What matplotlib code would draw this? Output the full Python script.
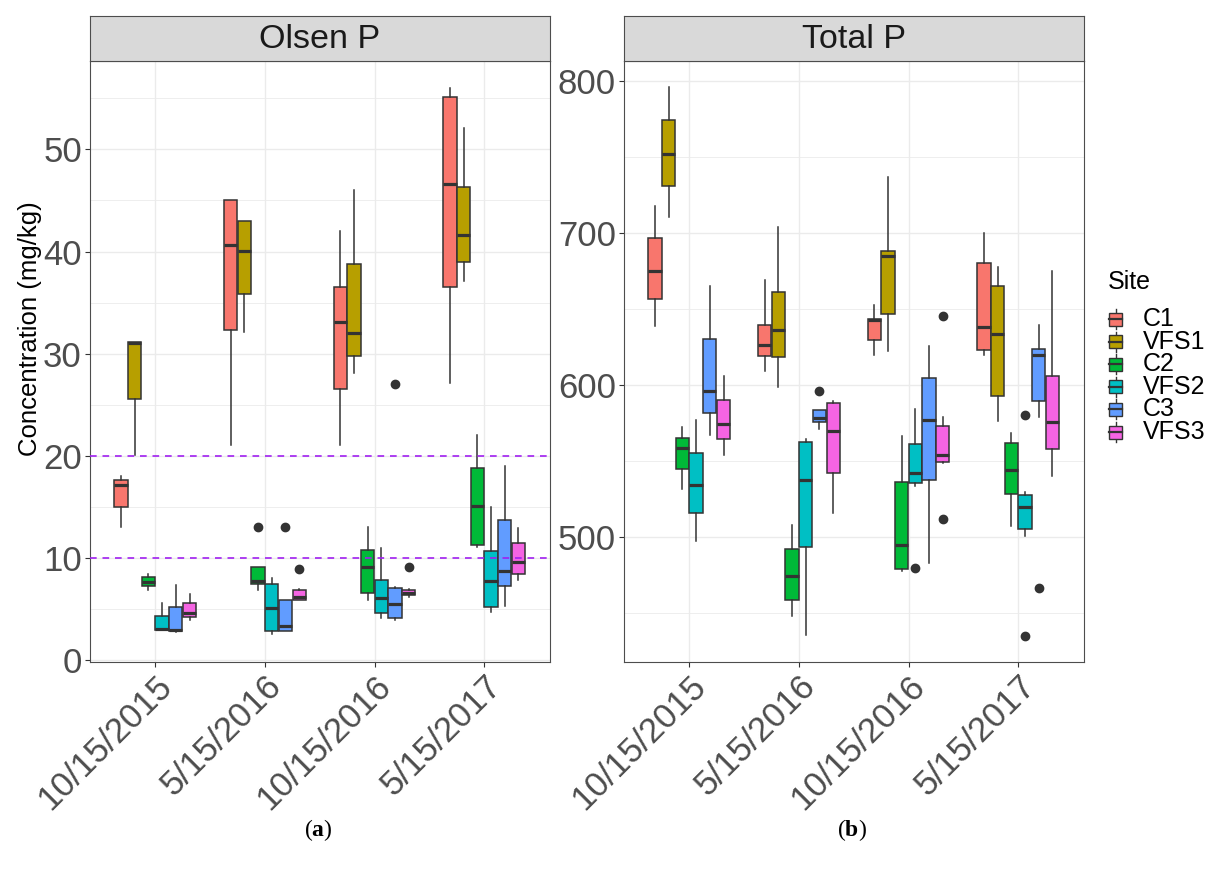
import matplotlib
matplotlib.use('Agg')
import matplotlib.pyplot as plt
from matplotlib.patches import Rectangle
from matplotlib.lines import Line2D

plt.rcParams['font.family'] = ['Liberation Sans', 'DejaVu Sans']
plt.rcParams['mathtext.fontset'] = 'custom'
plt.rcParams['mathtext.rm'] = 'Liberation Serif'
plt.rcParams['mathtext.bf'] = 'Liberation Serif:bold'

# ---------------- data ----------------
dates = ['10/15/2015', '5/15/2016', '10/15/2016', '5/15/2017']
sites = ['C1', 'VFS1', 'C2', 'VFS2', 'C3', 'VFS3']
site_colors = ['#F8766D', '#B79F00', '#00BA38', '#00BFC4', '#619CFF', '#F564E3']

# Olsen P (mg/kg): rows = sites, cols = dates
olsen_whislo = [[13.0, 21.1, 21.1, 27.1],
                [20.1, 32.1, 28.1, 37.1],
                [6.9, 6.9, 5.9, 11.1],
                [2.9, 2.5, 4.1, 4.7],
                [2.75, 2.8, 3.9, 5.3],
                [3.9, 5.9, 6.2, 7.8]]
olsen_q1 = [[15.0, 32.3, 26.5, 36.5],
            [25.6, 35.8, 29.8, 39.0],
            [7.2, 7.4, 6.6, 11.3],
            [2.95, 2.85, 4.6, 5.2],
            [2.85, 2.85, 4.1, 7.2],
            [4.25, 5.9, 6.4, 8.4]]
olsen_med = [[17.1, 40.6, 33.1, 46.6],
             [31.0, 40.1, 32.0, 41.6],
             [7.6, 7.75, 9.1, 15.1],
             [3.0, 5.1, 6.1, 7.7],
             [2.95, 3.3, 5.5, 8.7],
             [4.6, 6.15, 6.6, 9.6]]
olsen_q3 = [[17.6, 45.0, 36.5, 55.1],
            [31.1, 43.0, 38.8, 46.3],
            [8.1, 9.1, 10.75, 18.8],
            [4.3, 7.4, 7.8, 10.65],
            [5.2, 5.9, 7.0, 13.7],
            [5.55, 6.9, 6.85, 11.45]]
olsen_whishi = [[18.0, 45.0, 42.0, 56.0],
                [31.1, 43.0, 46.0, 52.1],
                [8.45, 9.1, 13.0, 22.0],
                [5.55, 8.05, 11.0, 15.0],
                [7.35, 5.9, 7.15, 18.95],
                [6.45, 6.95, 6.95, 12.95]]
# (date index, site index, value)
olsen_outliers = [(1, 2, 13.0), (1, 4, 13.0), (1, 5, 8.9),
                  (2, 4, 27.05), (2, 5, 9.1)]
olsen_thresholds = [10, 20]

# Total P (mg/kg)
total_whislo = [[638.6, 609.3, 619.4, 619.4],
                [710.5, 598.3, 622.0, 576.1],
                [531.2, 447.8, 477.5, 507.0],
                [497.3, 435.0, 533.4, 500.4],
                [567.1, 571.2, 483.0, 579.1],
                [554.1, 515.4, 548.4, 540.2]]
total_q1 = [[656.6, 618.8, 629.3, 623.2],
            [731.2, 618.1, 646.3, 592.8],
            [544.4, 458.6, 478.8, 527.9],
            [515.4, 493.3, 535.2, 504.8],
            [581.6, 575.4, 537.6, 589.3],
            [564.0, 541.8, 549.0, 557.8]]
total_med = [[675.1, 626.0, 643.0, 638.1],
             [752.1, 635.9, 685.0, 633.5],
             [558.3, 474.2, 494.4, 544.0],
             [534.1, 537.3, 541.8, 519.7],
             [596.1, 578.0, 576.9, 619.6],
             [573.9, 569.3, 553.9, 575.4]]
total_q3 = [[696.4, 639.7, 643.6, 679.9],
            [774.1, 661.3, 688.1, 665.2],
            [565.3, 491.8, 536.2, 562.0],
            [555.2, 562.2, 561.1, 527.5],
            [630.2, 583.1, 604.7, 623.6],
            [589.7, 588.2, 572.8, 605.5]]
total_whishi = [[717.8, 668.9, 652.7, 699.7],
                [795.9, 703.9, 736.9, 677.7],
                [572.5, 507.7, 566.4, 568.6],
                [576.8, 564.4, 584.4, 529.2],
                [665.0, 583.1, 625.8, 639.7],
                [605.5, 589.3, 578.5, 674.9]]
total_outliers = [(1, 4, 595.9), (2, 3, 479.7), (2, 5, 511.6), (2, 5, 645.0),
                  (3, 3, 580.0), (3, 3, 434.8), (3, 4, 465.9)]

# ---------------- figure ----------------
W, H = 1211, 877
fig = plt.figure(figsize=(W / 100, H / 100), dpi=100)


def px_axes(x0, y0, x1, y1):
    return fig.add_axes([x0 / W, 1 - y1 / H, (x1 - x0) / W, (y1 - y0) / H])


EDGE = '#333333'
GRID = '#EBEBEB'
BORDER = '#4D4D4D'


def draw_panel(ax, lo, q1, med, q3, hi, outliers, ylim, majors, minors):
    n = len(sites)
    dodge = 0.75
    bw = dodge / n
    ax.set_facecolor('white')
    for s in range(n):
        stats = []
        pos = []
        for d in range(len(dates)):
            fl = [v for (dd, ss, v) in outliers if dd == d and ss == s]
            stats.append(dict(whislo=lo[s][d], q1=q1[s][d], med=med[s][d],
                              q3=q3[s][d], whishi=hi[s][d], fliers=fl))
            pos.append(d + 1 - dodge / 2 + bw * (s + 0.5))
        ax.bxp(stats, positions=pos, widths=bw * 0.97, patch_artist=True,
               showcaps=False, manage_ticks=False, zorder=3,
               boxprops=dict(facecolor=site_colors[s], edgecolor=EDGE, linewidth=1.1),
               medianprops=dict(color=EDGE, linewidth=2.3, solid_capstyle='butt'),
               whiskerprops=dict(color=EDGE, linewidth=1.1),
               flierprops=dict(marker='o', markerfacecolor=EDGE, markeredgecolor=EDGE,
                               markersize=6, linestyle='none'))
    ax.set_xlim(0.4, len(dates) + 0.6)
    ax.set_ylim(*ylim)
    ax.set_xticks(range(1, len(dates) + 1))
    ax.set_xticklabels(dates, rotation=45, ha='right', va='top', rotation_mode='anchor')
    ax.set_yticks(majors)
    ax.set_yticks(minors, minor=True)
    ax.grid(True, which='major', color=GRID, linewidth=1.0, zorder=0)
    ax.grid(True, which='minor', axis='y', color=GRID, linewidth=0.6, zorder=0)
    ax.set_axisbelow(True)
    ax.tick_params(axis='both', which='major', labelsize=25, labelcolor='#4D4D4D',
                   color=EDGE, length=3.5, width=0.8, pad=2)
    ax.tick_params(axis='both', which='minor', length=0)
    for sp in ax.spines.values():
        sp.set_color(BORDER)
        sp.set_linewidth(0.8)


def draw_strip(x0, x1, label):
    sa = px_axes(x0, 16, x1, 61)
    sa.set_facecolor('#D9D9D9')
    sa.set_xticks([])
    sa.set_yticks([])
    for sp in sa.spines.values():
        sp.set_color(BORDER)
        sp.set_linewidth(0.8)
    sa.text(0.5, 0.47, label, ha='center', va='center', fontsize=24.5,
            color='#1A1A1A', transform=sa.transAxes)


axL = px_axes(89.5, 61, 550, 662)
draw_panel(axL, olsen_whislo, olsen_q1, olsen_med, olsen_q3, olsen_whishi,
           olsen_outliers, (-0.2, 58.66), [0, 10, 20, 30, 40, 50],
           [5, 15, 25, 35, 45, 55])
for t in olsen_thresholds:
    axL.axhline(t, color='#A020F0', linestyle=(0, (4, 3.5)), linewidth=1.2, zorder=5)
draw_strip(89.5, 550, 'Olsen P')

axR = px_axes(623.5, 61, 1084, 662)
draw_panel(axR, total_whislo, total_q1, total_med, total_q3, total_whishi,
           total_outliers, (417.5, 813.2), [500, 600, 700, 800],
           [450, 550, 650, 750])
draw_strip(623.5, 1084, 'Total P')

fig.text(30 / W, 1 - 329 / H, 'Concentration (mg/kg)', rotation=90,
         ha='center', va='center', fontsize=18.5, color='black')

# legend
lg = fig.add_axes([0, 0, 1, 1], facecolor='none')
lg.set_xlim(0, W)
lg.set_ylim(H, 0)
lg.axis('off')
lg.text(1108, 282, 'Site', ha='left', va='center', fontsize=18, color='black')
for i, (name, col) in enumerate(zip(sites, site_colors)):
    yc = 319 + 22.6 * i
    lg.add_line(Line2D([1115.5, 1115.5], [yc - 10, yc + 10], color=EDGE, linewidth=1.0))
    lg.add_patch(Rectangle((1109, yc - 6.5), 13, 13, facecolor=col, edgecolor=EDGE,
                           linewidth=1.0, zorder=3))
    lg.add_line(Line2D([1109, 1122], [yc, yc], color=EDGE, linewidth=1.6, zorder=4))
    lg.text(1143, yc, name, ha='left', va='center', fontsize=18, color='black')

# sub-captions
fig.text(318 / W, 1 - 830 / H, r'($\mathbf{a}$)', ha='center', va='center',
         fontsize=17, family='Liberation Serif')
fig.text(852 / W, 1 - 830 / H, r'($\mathbf{b}$)', ha='center', va='center',
         fontsize=17, family='Liberation Serif')

fig.savefig('out.png', dpi=100)
